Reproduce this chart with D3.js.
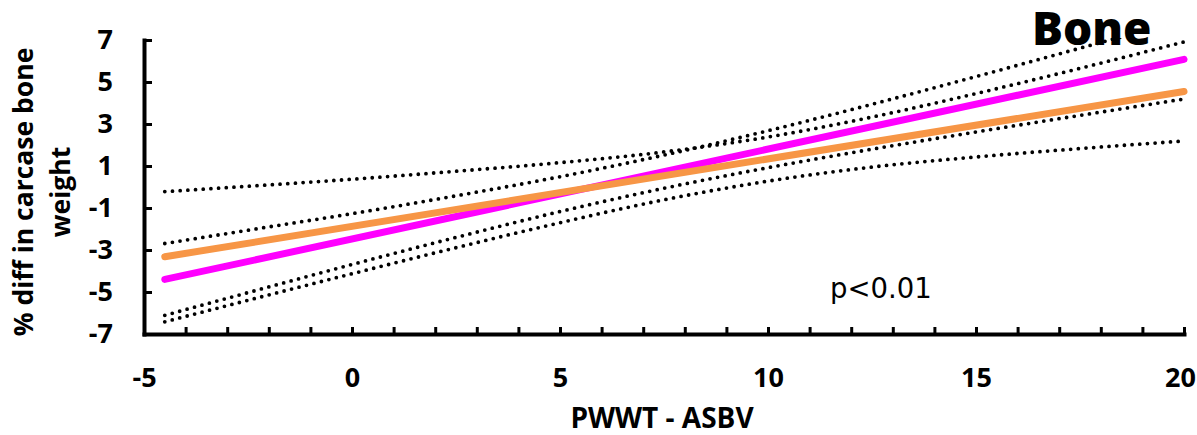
<!DOCTYPE html>
<html>
<head>
<meta charset="utf-8">
<script src="https://cdn.jsdelivr.net/npm/d3@7"></script>
<style>
  body { margin: 0; background: #fff; }
  svg { display: block; }
</style>
</head>
<body>
<svg width="1197" height="435"></svg>
<script>
// regression lines (ends only) and the four dotted bands
var lineX = [-4.5, 20];
var magentaLine = [-4.40, 6.08];
var orangeLine = [-3.32, 4.55];

var bandX = [-4.5, -2, 0, 2.5, 5, 7.5, 10, 12.5, 15, 17.5, 20];
var orangeUpper = [-0.22, 0.10, 0.37, 0.75, 1.16, 1.67, 2.38, 3.33, 4.45, 5.65, 6.91];
var orangeLower = [-6.42, -5.14, -4.13, -2.89, -1.70, -0.61, 0.28, 0.95, 1.43, 1.83, 2.19];
var magentaUpper = [-2.69, -1.90, -1.27, -0.42, 0.49, 1.52, 2.68, 3.94, 5.26, 6.61, 7.97];
var magentaLower = [-6.11, -4.76, -3.69, -2.40, -1.17, -0.06, 0.92, 1.80, 2.62, 3.41, 4.19];

var xTicks = d3.range(-5, 21);
var xLabels = [-5, 0, 5, 10, 15, 20];
var yTicks = [-7, -5, -3, -1, 1, 3, 5, 7];

var svg = d3.select("svg");
var x = d3.scaleLinear().domain([-5, 20]).range([144, 1184]);
var y = d3.scaleLinear().domain([-7, 7]).range([334, 40]);

svg.append("clipPath").attr("id", "plot")
  .append("rect").attr("x", 144).attr("y", 38).attr("width", 1050).attr("height", 298);

var plot = svg.append("g").attr("clip-path", "url(#plot)");

var line = d3.line()
  .x(function(d){ return x(d[0]); })
  .y(function(d){ return y(d[1]); })
  .curve(d3.curveMonotoneX);

var zipIt = function(xs, ys) {
  return xs.map(function(v, i){ return [v, ys[i]]; });
};

// dotted bands
[orangeUpper, orangeLower, magentaUpper, magentaLower].forEach(function(band){
  plot.append("path")
    .attr("d", line(zipIt(bandX, band)))
    .attr("fill", "none")
    .attr("stroke", "#000")
    .attr("stroke-width", 3.8)
    .attr("stroke-linecap", "round")
    .attr("stroke-dasharray", "0 7.7");
});

// fitted lines
plot.append("path")
  .attr("d", line(zipIt(lineX, magentaLine)))
  .attr("fill", "none").attr("stroke", "#ff00ff")
  .attr("stroke-width", 7).attr("stroke-linecap", "round");

plot.append("path")
  .attr("d", line(zipIt(lineX, orangeLine)))
  .attr("fill", "none").attr("stroke", "#f79646")
  .attr("stroke-width", 7).attr("stroke-linecap", "round");

// axes
var xAxis = svg.append("g")
  .attr("transform", "translate(0," + y(-7) + ")")
  .call(d3.axisBottom(x).tickValues(xTicks).tickSize(-7).tickSizeOuter(0).tickPadding(34)
    .tickFormat(function(d){ return xLabels.indexOf(d) >= 0 ? String(d) : ""; }));

var yAxis = svg.append("g")
  .attr("transform", "translate(" + x(-5) + ",0)")
  .call(d3.axisLeft(y).tickValues(yTicks).tickSize(-8).tickSizeOuter(0).tickPadding(31)
    .tickFormat(function(d){ return String(d); }));

[xAxis, yAxis].forEach(function(g){
  g.select(".domain").attr("stroke", "#000").attr("stroke-width", 4).attr("stroke-linecap", "square");
  g.selectAll(".tick line").attr("stroke", "#000").attr("stroke-width", 3);
  g.selectAll("text")
    .attr("fill", "#000")
    .style("font-family", "'Open Sans', sans-serif")
    .style("font-weight", "bold")
    .style("font-size", "27px");
});

// last label sits against the right edge
xAxis.selectAll(".tick text").filter(function(d){ return d === 20; }).attr("dx", -4);

// titles
svg.append("text")
  .attr("x", 662).attr("y", 428)
  .attr("text-anchor", "middle")
  .style("font-family", "'Open Sans', sans-serif")
  .style("font-weight", "bold").style("font-size", "28px")
  .text("PWWT - ASBV");

svg.append("text")
  .attr("transform", "translate(33,192) rotate(-90)")
  .attr("text-anchor", "middle")
  .style("font-family", "'Open Sans', sans-serif")
  .style("font-weight", "bold").style("font-size", "26.5px")
  .text("% diff in carcase bone");

svg.append("text")
  .attr("transform", "translate(70,192) rotate(-90)")
  .attr("text-anchor", "middle")
  .style("font-family", "'Open Sans', sans-serif")
  .style("font-weight", "bold").style("font-size", "26.5px")
  .text("weight");

svg.append("text")
  .attr("x", 1032).attr("y", 45)
  .style("font-family", "'Open Sans', sans-serif")
  .style("font-weight", "800").style("font-size", "46px")
  .text("Bone");

svg.append("text")
  .attr("x", 830).attr("y", 298)
  .style("font-family", "'DejaVu Sans', sans-serif")
  .style("font-size", "27.5px")
  .text("p<0.01");
</script>
</body>
</html>
